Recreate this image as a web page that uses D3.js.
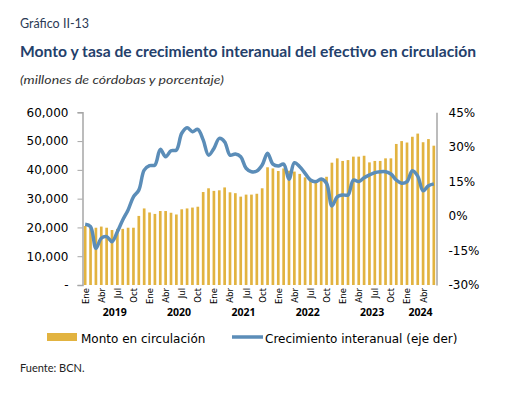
<!DOCTYPE html>
<html>
<head>
<meta charset="utf-8">
<script src="https://cdn.jsdelivr.net/npm/d3@7"></script>
<style>
  body { margin: 0; background: #fff; }
  svg { display: block; }
  .axis-label { font-family: "DejaVu Sans", Verdana, sans-serif; font-size: 12px; fill: #000; }
  .month { font-family: "DejaVu Sans", Verdana, sans-serif; font-size: 8.5px; fill: #000; }
  .year { font-family: "Noto Sans", "Liberation Sans", sans-serif; font-size: 10.5px; font-weight: bold; fill: #000; }
  .legend { font-family: "DejaVu Sans", Verdana, sans-serif; font-size: 12px; fill: #000; }
</style>
</head>
<body>
<div id="chart"></div>
<script>
"use strict";

// monthly data, Ene 2019 - Jun 2024
var years = ["2019", "2020", "2021", "2022", "2023", "2024"];
var month_names = ["Ene", "Feb", "Mar", "Abr", "May", "Jun", "Jul", "Ago", "Sep", "Oct", "Nov", "Dic"];

// monto en circulacion (millones de cordobas)
var monto = [
    20500, 20000, 19900, 20300, 19900, 19100, 19500, 19500, 19900, 19900, 24000, 26600,
    25200, 24700, 25700, 25700, 25100, 24500, 26300, 26600, 26900, 27200, 32300, 33600,
    32700, 32900, 33900, 32200, 31900, 30700, 31400, 31400, 31700, 33600, 40900, 40500,
    39600, 40500, 39700, 39400, 38600, 37400, 36500, 35900, 36500, 37600, 42500, 44000,
    43100, 43400, 44600, 44600, 44900, 42600, 43100, 43100, 44000, 44000, 49000, 50000,
    49500, 51500, 52600, 49600, 50700, 48400
];

// crecimiento interanual (%)
var crecimiento = [
    -3.6, -4.6, -14.1, -9.7, -9.0, -11.2, -6.9, -1.8, 2.6, 8.3, 11.2, 19.9,
    21.8, 22.1, 28.9, 25.7, 28.3, 28.6, 35.9, 38.3, 36.6, 37.6, 33.0, 26.4,
    29.3, 33.7, 32.2, 26.4, 26.9, 25.7, 20.7, 19.2, 19.5, 22.1, 27.2, 22.5,
    21.7, 22.5, 15.9, 23.1, 21.4, 18.5, 15.6, 14.9, 16.0, 14.2, 4.3, 8.3,
    9.1, 9.1, 15.6, 14.9, 16.6, 17.8, 18.8, 19.2, 19.2, 18.2, 15.6, 14.2,
    14.9, 19.6, 17.3, 10.9, 13.1, 13.9
];

var left_ticks = [0, 10000, 20000, 30000, 40000, 50000, 60000];
var right_ticks = [-30, -15, 0, 15, 30, 45];
var shown_months = ["Ene", "Abr", "Jul", "Oct"];

var data = monto.map(function(v, i) {
    return {
        "idx": i,
        "year": years[Math.floor(i / 12)],
        "month": month_names[i % 12],
        "monto": v,
        "crec": crecimiento[i]
    };
});

var width = 514, height = 393;
var plot_left = 82.5, plot_right = 436.5, plot_top = 112.3, plot_bottom = 285;

var bar_color = "#E2B340", line_color = "#5B8DB8";

var svg = d3.select("#chart")
    .append("svg")
    .attr("width", width)
    .attr("height", height);

svg.append("rect")
    .attr("width", width)
    .attr("height", height)
    .attr("fill", "#fff");

// titles
svg.append("text")
    .attr("x", 20).attr("y", 27.5)
    .style("font-family", "Lato, 'Noto Sans', sans-serif")
    .style("font-size", "12.5px")
    .style("fill", "#2b3a55")
    .text("Gráfico II-13");

svg.append("text")
    .attr("x", 20).attr("y", 57)
    .attr("textLength", 456)
    .attr("lengthAdjust", "spacingAndGlyphs")
    .style("font-family", "Lato, 'Noto Sans', sans-serif")
    .style("font-size", "14.5px")
    .style("font-weight", "bold")
    .style("fill", "#24406b")
    .text("Monto y tasa de crecimiento interanual del efectivo en circulación");

svg.append("text")
    .attr("x", 20).attr("y", 84)
    .attr("textLength", 204)
    .attr("lengthAdjust", "spacingAndGlyphs")
    .style("font-family", "Lato, 'Noto Sans', sans-serif")
    .style("font-size", "12px")
    .style("font-style", "italic")
    .style("fill", "#333")
    .text("(millones de córdobas y porcentaje)");

// scales
var x = d3.scaleBand()
    .domain(data.map(function(d) { return d.idx; }))
    .range([plot_left, plot_right])
    .paddingInner(0.5)
    .paddingOuter(0.25);

var y_left = d3.scaleLinear()
    .domain([0, 60000])
    .range([plot_bottom, plot_top]);

var y_right = d3.scaleLinear()
    .domain([-30, 45])
    .range([plot_bottom, plot_top]);

function x_mid(d) { return x(d.idx) + x.bandwidth() / 2; }

// bars
svg.selectAll("rect.bar")
    .data(data)
    .enter()
    .append("rect")
    .attr("class", "bar")
    .attr("x", function(d) { return x(d.idx); })
    .attr("y", function(d) { return y_left(d.monto); })
    .attr("width", x.bandwidth())
    .attr("height", function(d) { return y_left(0) - y_left(d.monto); })
    .attr("fill", bar_color);

// left axis
var left_axis = d3.axisLeft(y_left)
    .tickValues(left_ticks)
    .tickSize(5)
    .tickPadding(9)
    .tickFormat(function(d) { return d === 0 ? "-" : d3.format(",")(d); });

var gl = svg.append("g")
    .attr("transform", "translate(" + plot_left + ",0)")
    .call(left_axis);
gl.select(".domain").attr("stroke", "#a6a6a6").attr("stroke-width", 1.5);
gl.selectAll(".tick line").attr("stroke", "#a6a6a6");
gl.selectAll(".tick text").attr("class", "axis-label").attr("fill", null);

// right axis
var right_axis = d3.axisRight(y_right)
    .tickValues(right_ticks)
    .tickSize(0)
    .tickPadding(12)
    .tickFormat(function(d) { return d + "%"; });

var gr = svg.append("g")
    .attr("transform", "translate(" + plot_right + ",0)")
    .call(right_axis);
gr.select(".domain").attr("stroke", "#a6a6a6").attr("stroke-width", 1.5);
gr.selectAll(".tick text").attr("class", "axis-label").attr("fill", null);

// line
var line = d3.line()
    .curve(d3.curveCatmullRom.alpha(0.5))
    .x(x_mid)
    .y(function(d) { return y_right(d.crec); });

svg.append("path")
    .datum(data)
    .attr("d", line)
    .attr("fill", "none")
    .attr("stroke", line_color)
    .attr("stroke-width", 3.5)
    .attr("stroke-linejoin", "round");

// month labels
svg.selectAll("text.month")
    .data(data.filter(function(d) { return shown_months.indexOf(d.month) >= 0; }))
    .enter()
    .append("text")
    .attr("class", "month")
    .attr("transform", function(d) {
        return "translate(" + (x_mid(d) + 0.5) + "," + (plot_bottom + 3) + ") rotate(-90)";
    })
    .attr("text-anchor", "end")
    .attr("dy", "0.35em")
    .text(function(d) { return d.month; });

// year labels
svg.selectAll("text.year")
    .data(years)
    .enter()
    .append("text")
    .attr("class", "year")
    .attr("x", function(yr) {
        var ds = data.filter(function(d) { return d.year === yr; });
        return (x_mid(ds[0]) + x_mid(ds[ds.length - 1])) / 2;
    })
    .attr("y", 316)
    .attr("text-anchor", "middle")
    .text(function(yr) { return yr; });

// legend
svg.append("rect")
    .attr("x", 47).attr("y", 333)
    .attr("width", 30).attr("height", 8)
    .attr("fill", bar_color);
svg.append("text")
    .attr("class", "legend")
    .attr("x", 81).attr("y", 343)
    .text("Monto en circulación");

svg.append("line")
    .attr("x1", 232).attr("x2", 263)
    .attr("y1", 337).attr("y2", 337)
    .attr("stroke", line_color)
    .attr("stroke-width", 3.5);
svg.append("text")
    .attr("class", "legend")
    .attr("x", 265).attr("y", 343)
    .text("Crecimiento interanual (eje der)");

// source
svg.append("text")
    .attr("x", 20).attr("y", 372)
    .style("font-family", "Lato, 'Noto Sans', sans-serif")
    .style("font-size", "11px")
    .style("fill", "#222")
    .text("Fuente: BCN.");
</script>
</body>
</html>
